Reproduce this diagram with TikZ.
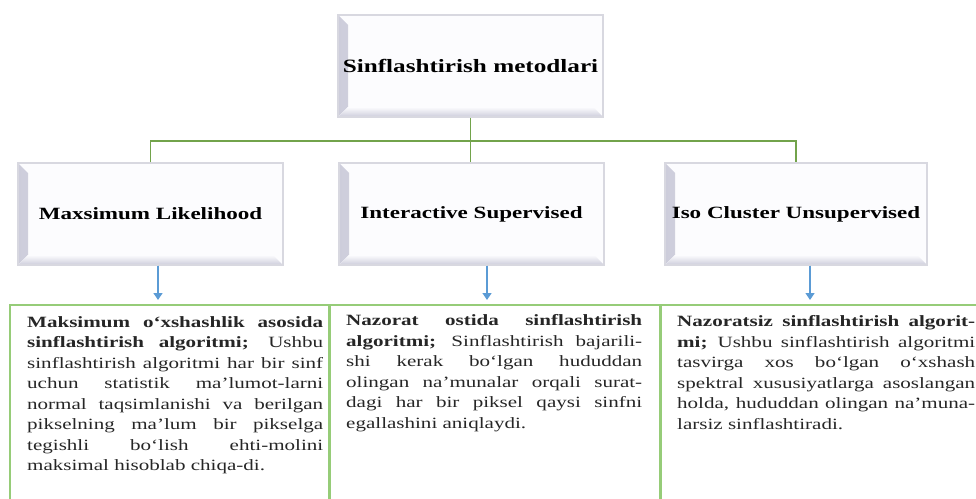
\documentclass[tikz,border=0pt]{standalone}
\usepackage{fontspec}
\setmainfont{Liberation Serif}[FakeStretch=1.34]
\usetikzlibrary{arrows.meta,positioning,calc}
\definecolor{bevline}{HTML}{D8D8E0}
\definecolor{bevfill}{HTML}{FCFCFE}
\definecolor{bevshade}{HTML}{CDCDDB}
\definecolor{busgreen}{HTML}{72A34B}
\definecolor{boxgreen}{HTML}{96CC78}
\definecolor{arrblue}{HTML}{5B9BD5}
\definecolor{bodytext}{HTML}{262626}
\tolerance=10000
\hyphenpenalty=10000

\begin{document}
\begin{tikzpicture}[x=1pt,y=-1pt,>={Triangle[length=7pt,width=9pt]},
 bev/.style={draw=bevline,line width=1.2pt,fill=bevfill,minimum width=265pt,minimum height=102pt,inner sep=0pt,font=\fontsize{17.2}{20}\selectfont\bfseries,
  path picture={
   \fill[left color=bevshade,right color=bevfill] (path picture bounding box.south west) -- (path picture bounding box.north west) -- ([shift={(10pt,-10pt)}]path picture bounding box.north west) -- ([shift={(10pt,10pt)}]path picture bounding box.south west) -- cycle;
   \fill[bottom color=bevshade,top color=bevfill] (path picture bounding box.south west) -- ([shift={(10pt,10pt)}]path picture bounding box.south west) -- ([shift={(-10pt,10pt)}]path picture bounding box.south east) -- (path picture bounding box.south east) -- cycle;}},
 bus/.style={draw=busgreen,line width=1.6pt},
 arr/.style={->,draw=arrblue,fill=arrblue,line width=1.3pt,shorten >=4pt},
 frm/.style={draw=boxgreen,line width=1.8pt,minimum height=240pt,inner sep=0pt,anchor=north west},
 desc/.style={anchor=north west,inner sep=0pt,text width=296pt,align=justify,text=bodytext,font=\fontsize{15.7}{20.5}\selectfont}]
\clip (0,0) rectangle (976,498);
\node[bev,minimum width=265pt,font=\fontsize{18.8}{22}\selectfont\bfseries] (top) at (470.5,66) {Sinflashtirish metodlari};
\node[bev] (ml) at (150.5,214) {Maxsimum Likelihood};
\node[bev] (is) at (471.5,214) {Interactive Supervised};
\node[bev,minimum width=262pt] (iso) at (796,214) {Iso Cluster Unsupervised};
\coordinate (hub) at (471,141);
\draw[bus] (top.south) -- (top.south |- is.north);
\draw[bus] (ml.north) |- (hub) -| (iso.north);
\node[frm,minimum width=319pt] (f1) at (9,304) {};
\node[frm,minimum width=330pt] (f2) at (329,304) {};
\node[frm,minimum width=330pt] (f3) at (660,304) {};
\draw[arr] ([xshift=7.5pt]ml.south) -- ([xshift=7.5pt]ml.south |- f1.north);
\draw[arr] ([xshift=15.5pt]is.south) -- ([xshift=15.5pt]is.south |- f2.north);
\draw[arr] ([xshift=14pt]iso.south) -- ([xshift=14pt]iso.south |- f3.north);
\node[desc] (t1) at (27,316) {\textbf{Maksimum o‘xshashlik asosida}\linebreak
 \textbf{sinflashtirish algoritmi;} Ushbu\linebreak
 sinflashtirish algoritmi har bir sinf\linebreak
 uchun statistik ma’lumot-larni\linebreak
 normal taqsimlanishi va berilgan\linebreak
 pikselning ma’lum bir pikselga\linebreak
 tegishli bo‘lish ehti-molini\linebreak
 maksimal hisoblab chiqa-di.};
\node[desc] (t2) at (346,314.5) {\textbf{Nazorat ostida sinflashtirish}\linebreak
 \textbf{algoritmi;} Sinflashtirish bajarili-\linebreak
 shi kerak bo‘lgan hududdan\linebreak
 olingan na’munalar orqali surat-\linebreak
 dagi har bir piksel qaysi sinfni\linebreak
 egallashini aniqlaydi.};
\node[desc,text width=298pt] (t3) at (677,315.5) {\textbf{Nazoratsiz sinflashtirish algorit-}\linebreak
 \textbf{mi;} Ushbu sinflashtirish algoritmi\linebreak
 tasvirga xos bo‘lgan o‘xshash\linebreak
 spektral xususiyatlarga asoslangan\linebreak
 holda, hududdan olingan na’muna-\linebreak
 larsiz sinflashtiradi.};
\end{tikzpicture}
\end{document}
